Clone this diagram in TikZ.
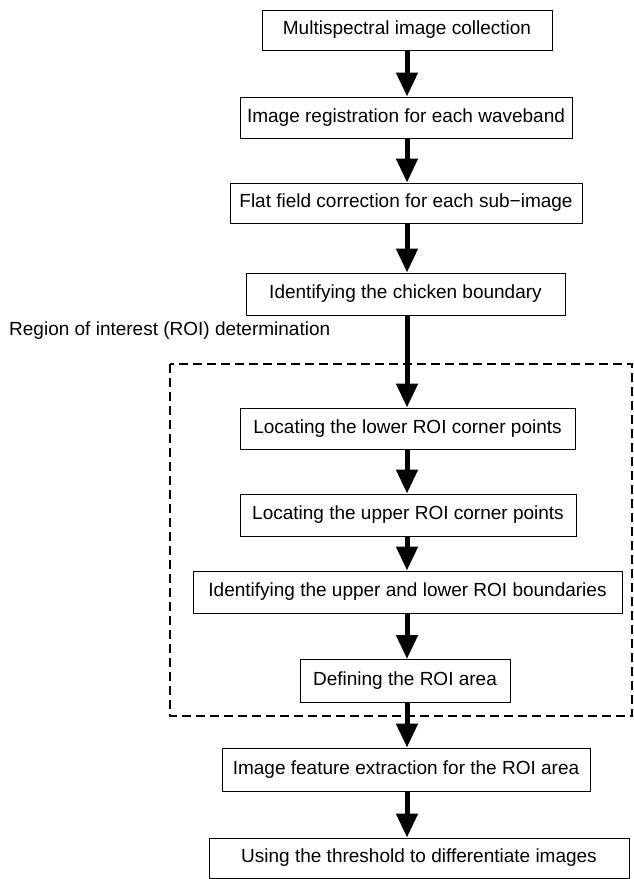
\documentclass[tikz,border=0pt]{standalone}
\usepackage{fontspec}
\setmainfont{Liberation Sans}
\usetikzlibrary{arrows.meta}
\begin{document}
\begin{tikzpicture}[x=1pt,y=-1pt,
  txt/.style={font=\fontsize{19}{22}\selectfont},
  box/.style={draw, line width=1pt, inner sep=0pt, align=center, txt},
  flow/.style={line width=5pt, -{Triangle[width=21pt,length=24pt]}},
  roi/.style={draw, line width=1.3pt, dash pattern=on 9pt off 5pt}]
\useasboundingbox (0,0) rectangle (634,879);
\node[box, minimum width=290pt, minimum height=40pt] (b1) at (407,30) {Multispectral image collection};
\node[box, minimum width=332pt, minimum height=41pt] (b2) at (406,117.5) {Image registration for each waveband};
\node[box, minimum width=352pt, minimum height=40pt] (b3) at (406,203) {Flat field correction for each sub−image};
\node[box, minimum width=319pt, minimum height=42pt] (b4) at (405.5,294) {Identifying the chicken boundary};
\node[anchor=west, inner sep=0pt, txt] (lbl) at (9,331) {Region of interest (ROI) determination};
\draw[roi] (170,364) rectangle (632,716);
\node[box, minimum width=335pt, minimum height=41pt] (b5) at (407.5,428.5) {Locating the lower ROI corner points};
\node[box, minimum width=336pt, minimum height=42pt] (b6) at (408,515) {Locating the upper ROI corner points};
\node[box, minimum width=429pt, minimum height=42pt] (b7) at (407.5,592) {Identifying the upper and lower ROI boundaries};
\node[box, minimum width=210pt, minimum height=43pt] (b8) at (405,681) {Defining the ROI area};
\node[box, minimum width=368pt, minimum height=43pt] (b9) at (406,769.5) {Image feature extraction for the ROI area};
\node[box, minimum width=420pt, minimum height=40pt] (b10) at (419,858) {Using the threshold to differentiate images};
\foreach \a/\b in {b1/b2,b2/b3,b3/b4,b4/b5,b5/b6,b6/b7,b7/b8,b8/b9,b9/b10}
  \draw[flow] (\a.south -| 407,0) -- (\b.north -| 407,0);
\end{tikzpicture}
\end{document}
